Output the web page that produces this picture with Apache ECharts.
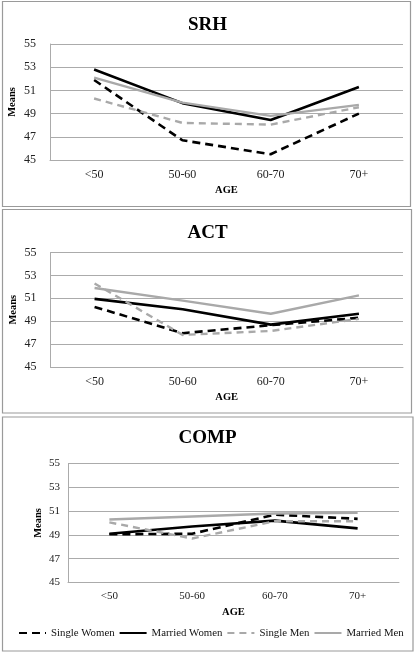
<!DOCTYPE html>
<html>
<head>
<meta charset="utf-8">
<script src="https://cdn.jsdelivr.net/npm/echarts@6/dist/echarts.min.js"></script>
<style>
html,body{margin:0;padding:0;background:#fff;}
#chart{width:415px;height:654px;}
</style>
</head>
<body>
<div id="chart"></div>
<script>
const categories = ['<50', '50-60', '60-70', '70+'];
const seriesNames = ['Single Women', 'Married Women', 'Single Men', 'Married Men'];
const yTicks = [45, 47, 49, 51, 53, 55];

const srhSingleWomen  = [51.9, 46.7, 45.5, 49.0];
const srhMarriedWomen = [52.8, 49.9, 48.45, 51.3];
const srhSingleMen    = [50.3, 48.2, 48.05, 49.55];
const srhMarriedMen   = [52.1, 49.95, 48.8, 49.75];

const actSingleWomen  = [50.25, 47.95, 48.65, 49.3];
const actMarriedWomen = [50.95, 50.05, 48.7, 49.65];
const actSingleMen    = [52.3, 47.8, 48.15, 49.2];
const actMarriedMen   = [51.9, 50.8, 49.65, 51.25];

const compSingleWomen  = [49.05, 49.1, 50.7, 50.35];
const compMarriedWomen = [49.1, 49.7, 50.2, 49.55];
const compSingleMen    = [50.05, 48.7, 50.15, 50.15];
const compMarriedMen   = [50.3, 50.55, 50.8, 50.85];

const panels = [
  {title: 'SRH', data: [srhSingleWomen, srhMarriedWomen, srhSingleMen, srhMarriedMen]},
  {title: 'ACT', data: [actSingleWomen, actMarriedWomen, actSingleMen, actMarriedMen]},
  {title: 'COMP', data: [compSingleWomen, compMarriedWomen, compSingleMen, compMarriedMen]}
];

const FONT = '"Liberation Serif", serif';
const GRID_COLOR = '#ababab';
const BLACK = '#000000';
const GRAY = '#a9a9a9';
const styles = [
  {color: BLACK, type: [8, 5], width: 2.6},
  {color: BLACK, type: 'solid', width: 2.6},
  {color: GRAY, type: [7, 5], width: 2.4},
  {color: GRAY, type: 'solid', width: 2.4}
];

const layout = [
  {grid: {left: 50, right: 12, top: 44, height: 116}, titleTop: 11, yLabelMargin: 14, yNameGap: 32, xLabelMargin: 9, xNameGap: 25, fs: 12},
  {grid: {left: 50.5, right: 12, top: 252.5, height: 114.5}, titleTop: 219, yLabelMargin: 14, yNameGap: 32, xLabelMargin: 9, xNameGap: 25, fs: 12},
  {grid: {left: 68, right: 16, top: 463.5, height: 119}, titleTop: 424, yLabelMargin: 8, yNameGap: 24.5, xLabelMargin: 8, xNameGap: 24, fs: 11}
];

const chart = echarts.init(document.getElementById('chart'), null, {renderer: 'canvas'});

const option = {
  animation: false,
  backgroundColor: '#ffffff',
  title: panels.map((p, i) => ({
    text: p.title,
    left: 'center',
    top: layout[i].titleTop,
    textStyle: {fontFamily: FONT, fontWeight: 'bold', fontSize: 19, color: '#000'}
  })),
  legend: {
    data: seriesNames,
    left: 18,
    top: 627.5,
    padding: 0,
    itemWidth: 27,
    itemHeight: 10,
    itemGap: 4,
    itemStyle: {opacity: 0},
    textStyle: {fontFamily: FONT, fontSize: 10.8, color: '#111'}
  },
  grid: layout.map(l => Object.assign({containLabel: false, outerBoundsMode: 'none'}, l.grid)),
  xAxis: layout.map((l, i) => ({
    type: 'category',
    gridIndex: i,
    data: categories,
    boundaryGap: true,
    axisLine: {show: true, lineStyle: {color: GRID_COLOR, width: 1}},
    axisTick: {show: false},
    axisLabel: {fontFamily: FONT, fontSize: l.fs, color: '#222', margin: l.xLabelMargin},
    name: 'AGE',
    nameLocation: 'middle',
    nameGap: l.xNameGap,
    nameMoveOverlap: false,
    nameTextStyle: {fontFamily: FONT, fontWeight: 'bold', fontSize: 10.5, color: '#000'}
  })),
  yAxis: layout.map((l, i) => ({
    type: 'value',
    gridIndex: i,
    min: 45,
    max: 55,
    interval: 2,
    axisLine: {show: true, lineStyle: {color: GRID_COLOR, width: 1}},
    axisTick: {show: false},
    splitLine: {show: true, lineStyle: {color: GRID_COLOR, width: 1}},
    axisLabel: {fontFamily: FONT, fontSize: l.fs, color: '#222', margin: l.yLabelMargin},
    name: 'Means',
    nameLocation: 'middle',
    nameGap: l.yNameGap,
    nameRotate: 90,
    nameMoveOverlap: false,
    nameTextStyle: {fontFamily: FONT, fontWeight: 'bold', fontSize: 10.5, color: '#000'}
  })),
  series: [],
  graphic: [
    {type: 'rect', shape: {x: 2.5, y: 1.5, width: 408, height: 205}, style: {fill: 'none', stroke: '#9a9a9a', lineWidth: 1.2}, silent: true},
    {type: 'rect', shape: {x: 2.5, y: 209.5, width: 409, height: 203.5}, style: {fill: 'none', stroke: '#9a9a9a', lineWidth: 1.2}, silent: true},
    {type: 'rect', shape: {x: 2.5, y: 417, width: 410.5, height: 234}, style: {fill: 'none', stroke: '#9a9a9a', lineWidth: 1.2}, silent: true}
  ]
};

panels.forEach((p, i) => {
  p.data.forEach((vals, k) => {
    option.series.push({
      type: 'line',
      name: seriesNames[k],
      xAxisIndex: i,
      yAxisIndex: i,
      data: vals,
      symbol: 'none',
      showSymbol: false,
      smooth: false,
      color: styles[k].color,
      lineStyle: {color: styles[k].color, type: styles[k].type, width: styles[k].width, cap: 'butt'},
      z: 2 + k
    });
  });
});

chart.setOption(option);
</script>
</body>
</html>
